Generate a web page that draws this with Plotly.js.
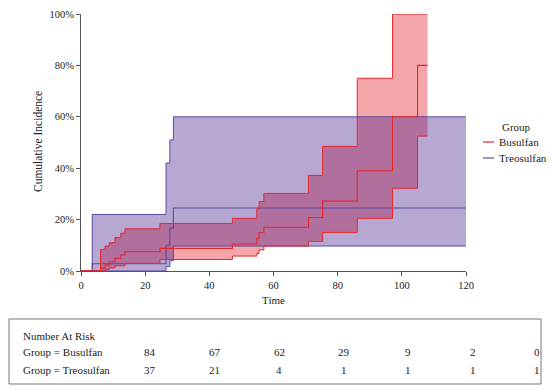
<!DOCTYPE html>
<html><head><meta charset="utf-8">
<script src="https://cdn.plot.ly/plotly-3.0.1.min.js"></script>
<style>html,body{margin:0;padding:0;background:#fff}#chart{width:551px;height:391px}</style>
</head><body><div id="chart"></div>
<script>
// ---- data (percent) ----
const busTime = [0, 6.1, 7.5, 8.8, 10.6, 12.4, 13.7, 24.6, 47.2, 54.8, 55.5, 57, 70.9, 75.3, 86.1, 97.1, 104.9, 108];
const busEst  = [0, 1.2, 2.4, 3.6, 4.9, 6.2, 7.5, 8.8, 10.5, 12.7, 14.9, 17.0, 20.8, 27.2, 39.0, 60.0, 80.0, 80.0];
const busLow  = [0, 0, 0.5, 1.2, 2.0, 2.0, 3.0, 4.5, 5.8, 6.8, 8.2, 9.7, 11.5, 15.0, 20.5, 32.2, 52.5, 52.5];
const busUp   = [0, 8.4, 9.7, 11.0, 13.0, 14.7, 16.4, 18.5, 20.5, 24.2, 27.0, 30.2, 37.2, 48.5, 75.0, 100, 100, 100];

const treoTime = [0, 3.5, 26.5, 27.7, 28.8, 120];
const treoEst  = [0, 2.8, 10.0, 16.7, 24.5, 24.5];
const treoLow  = [0, 0, 1.7, 4.0, 9.7, 9.7];
const treoUp   = [0, 22.0, 42.0, 51.0, 60.0, 60.0];

const groups = ["Busulfan", "Treosulfan"];
const riskBus  = [84, 67, 62, 29, 9, 2, 0];
const riskTreo = [37, 21, 4, 1, 1, 1, 1];
const riskRowLabels = ["Group = Busulfan", "Group = Treosulfan"];

// ---- styling ----
const RED = '#e8262c', PUR = '#5b4ba0';
const RED_FILL = 'rgba(231,55,66,0.45)', PUR_FILL = 'rgba(60,20,136,0.37)';
const FONT = 'Liberation Serif, Times New Roman, serif';

function fillPair(t, lo, up, col) {
  return [
    {x: t, y: lo, type: 'scatter', mode: 'lines', line: {shape: 'hv', width: 0, color: col}, showlegend: false, hoverinfo: 'skip'},
    {x: t, y: up, type: 'scatter', mode: 'lines', line: {shape: 'hv', width: 0, color: col}, fill: 'tonexty', fillcolor: col, showlegend: false, hoverinfo: 'skip'}
  ];
}
function ln(t, y, col, w) {
  return {x: t, y: y, type: 'scatter', mode: 'lines', line: {shape: 'hv', width: w, color: col}, showlegend: false};
}

const traces = [
  ...fillPair(busTime, busLow, busUp, RED_FILL),
  ...fillPair(treoTime, treoLow, treoUp, PUR_FILL),
  ln(treoTime, treoLow, PUR, 1), ln(treoTime, treoUp, PUR, 1), ln(treoTime, treoEst, PUR, 1.1),
  ln(busTime, busLow, RED, 1), ln(busTime, busUp, RED, 1), ln(busTime, busEst, RED, 1.1)
];

// pixel -> paper helpers (plot area: x 81..466, y 14..271)
const L = 81, R = 466, T = 14, B = 271;
const px = p => (p - L) / (R - L);
const py = p => (B - p) / (B - T);

const annotations = [];
const shapes = [];
// y axis title
annotations.push({xref: 'paper', yref: 'paper', x: px(38), y: py(142), text: 'Cumulative Incidence', textangle: -90, showarrow: false, xanchor: 'center', yanchor: 'middle', font: {family: FONT, size: 11.5, color: '#222'}});
// legend (manual)
annotations.push({xref: 'paper', yref: 'paper', x: px(516), y: py(127), text: 'Group', showarrow: false, xanchor: 'center', yanchor: 'middle', font: {family: FONT, size: 11, color: '#222'}});
[[RED, 142], [PUR, 158]].forEach((c, i) => {
  shapes.push({type: 'line', xref: 'paper', yref: 'paper', x0: px(483), x1: px(494), y0: py(c[1]), y1: py(c[1]), line: {color: c[0], width: 1.2}});
  annotations.push({xref: 'paper', yref: 'paper', x: px(497), y: py(c[1]), text: groups[i], showarrow: false, xanchor: 'left', yanchor: 'middle', font: {family: FONT, size: 11, color: '#222'}});
});
// risk table
shapes.push({type: 'rect', xref: 'paper', yref: 'paper', x0: px(9), x1: px(541), y0: py(319), y1: py(384), line: {color: '#777', width: 1}});
annotations.push({xref: 'paper', yref: 'paper', x: px(21), y: py(336), text: 'Number At Risk', showarrow: false, xanchor: 'left', yanchor: 'middle', font: {family: FONT, size: 11, color: '#222'}});
[[riskBus, 352], [riskTreo, 370]].forEach((row, r) => {
  annotations.push({xref: 'paper', yref: 'paper', x: px(21), y: py(row[1]), text: riskRowLabels[r], showarrow: false, xanchor: 'left', yanchor: 'middle', font: {family: FONT, size: 11, color: '#222'}});
  row[0].forEach((v, i) => {
    annotations.push({xref: 'paper', yref: 'paper', x: px(150 + i * 64.5), y: py(row[1]), text: String(v), showarrow: false, xanchor: 'center', yanchor: 'middle', font: {family: FONT, size: 11, color: '#222'}});
  });
});

const axisCommon = {showgrid: false, zeroline: false, showline: true, linecolor: '#555', linewidth: 1, ticks: 'outside', ticklen: 4, tickcolor: '#555', tickfont: {family: FONT, size: 10.5, color: '#222'}};

const layout = {
  width: 551, height: 391,
  margin: {l: L, r: 551 - R, t: T, b: 391 - B},
  paper_bgcolor: '#fff', plot_bgcolor: '#fff',
  showlegend: false,
  xaxis: Object.assign({}, axisCommon, {range: [0, 120], dtick: 20, tick0: 0, title: {text: 'Time', font: {family: FONT, size: 11, color: '#222'}, standoff: 6}}),
  yaxis: Object.assign({}, axisCommon, {range: [0, 100], dtick: 20, tick0: 0, ticksuffix: '%'}),
  shapes: shapes, annotations: annotations
};

Plotly.newPlot('chart', traces, layout, {displayModeBar: false, staticPlot: true});
</script></body></html>
